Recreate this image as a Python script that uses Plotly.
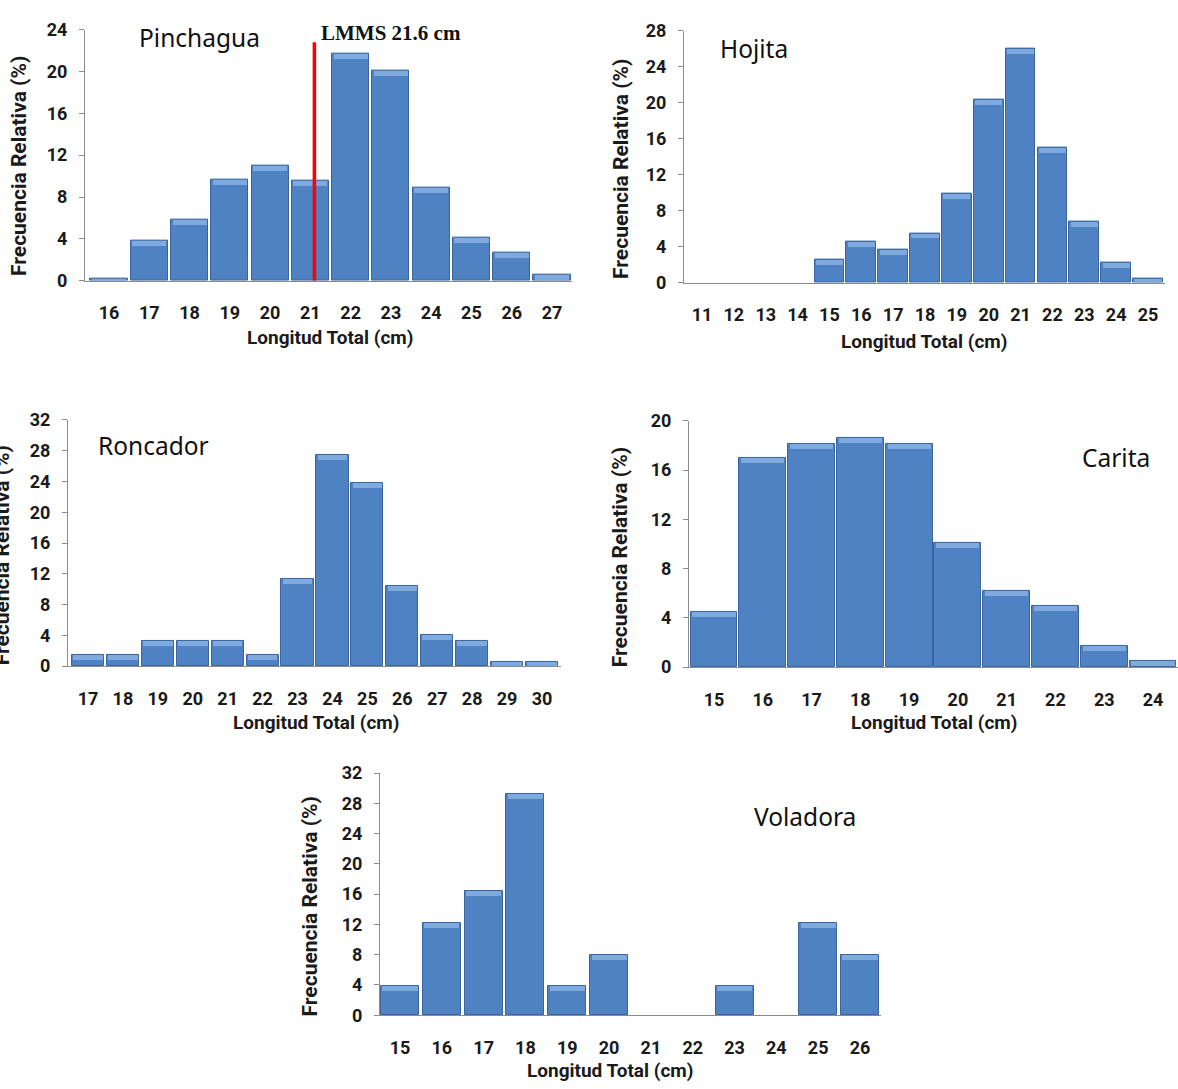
import plotly.graph_objects as go

# Length classes (cm) and relative frequencies (%) per species
pinchagua_len = list(range(16, 28))
pinchagua_freq = [0.2, 3.8, 5.8, 9.7, 11.0, 9.6, 21.7, 20.1, 8.9, 4.1, 2.7, 0.6]

hojita_len = list(range(11, 26))
hojita_freq = [0, 0, 0, 0, 2.6, 4.6, 3.7, 5.5, 9.9, 20.3, 26.0, 15.0, 6.8, 2.2, 0.4]

roncador_len = list(range(17, 31))
roncador_freq = [1.4, 1.4, 3.3, 3.3, 3.3, 1.4, 11.3, 27.5, 23.8, 10.4, 4.1, 3.3, 0.6, 0.6]

carita_len = list(range(15, 25))
carita_freq = [4.5, 17.0, 18.1, 18.6, 18.1, 10.1, 6.2, 5.0, 1.7, 0.5]

voladora_len = list(range(15, 27))
voladora_freq = [3.9, 12.2, 16.4, 29.2, 3.9, 8.0, 0, 0, 3.9, 0, 12.2, 8.0]

y_max = {"Pinchagua": 24, "Hojita": 28, "Roncador": 32, "Carita": 20, "Voladora": 32}
lmms_pinchagua = 21.6          # minimum landing size, cm
lmms_line_top = 22.8           # height of the marker line on the % axis

W, H = 1178, 1089

# Panel geometry in pixels: axis left/right/top/bottom, centres of first and last class
panels = [
    dict(name="Pinchagua", lens=pinchagua_len, freq=pinchagua_freq,
         L=85, R=572, T=19, B=275, c1=109, c2=552, bw=0.92,
         name_xy=(137, 27), xt=(330, 333), yt=(19, 158)),
    dict(name="Hojita", lens=hojita_len, freq=hojita_freq,
         L=684, R=1165, T=20, B=277, c1=702, c2=1148, bw=0.93,
         name_xy=(718, 38), xt=(924, 337), yt=(621, 161)),
    dict(name="Roncador", lens=roncador_len, freq=roncador_freq,
         L=68, R=561, T=417, B=668, c1=88, c2=542, bw=0.92,
         name_xy=(96, 443), xt=(316, 725), yt=(2, 555)),
    dict(name="Carita", lens=carita_len, freq=carita_freq,
         L=689, R=1178, T=418, B=669, c1=714, c2=1153, bw=0.96,
         name_xy=(1080, 455), xt=(934, 725), yt=(620, 557)),
    dict(name="Voladora", lens=voladora_len, freq=voladora_freq,
         L=380, R=881, T=777, B=1024, c1=400, c2=860, bw=0.91,
         name_xy=(752, 821), xt=(610, 1080), yt=(310, 913)),
]

BAR = "#4F82C3"
BAR_EDGE = "#3A659C"
BAR_TOP = "#8AB4E8"
AXIS = "#8C8C8C"
TICK_FONT = dict(family="Roboto", size=18, color="#1a1a1a", weight="bold")
XTITLE_FONT = dict(family="Roboto", size=19, color="#1a1a1a", weight="bold")
YTITLE_FONT = dict(family="Roboto", size=21, color="#1a1a1a", weight="bold")
NAME_FONT = dict(family="Noto Sans", size=24.5, color="#111111")


def px_x(p):
    return p / W


def px_y(p):
    return 1 - p / H


fig = go.Figure()
annotations = []

for i, p in enumerate(panels, start=1):
    xa = "x" if i == 1 else f"x{i}"
    ya = "y" if i == 1 else f"y{i}"
    lens, freq = p["lens"], p["freq"]
    mids = [k + 0.5 for k in lens]
    n = len(lens)
    step = (p["c2"] - p["c1"]) / (n - 1)
    x0 = mids[0] - (p["c1"] - p["L"]) / step
    x1 = mids[-1] + (p["R"] - p["c2"]) / step
    ymax = y_max[p["name"]]
    unit_px = (p["B"] - p["T"]) / ymax

    fig.add_trace(go.Bar(
        x=mids, y=freq, width=p["bw"], xaxis=xa, yaxis=ya,
        marker=dict(color=BAR, line=dict(color=BAR_EDGE,
                                         width=[1 if v > 0 else 0 for v in freq])),
        showlegend=False, hoverinfo="x+y",
    ))
    # light bevel band along the top of each bar
    band = 5 / unit_px
    fig.add_trace(go.Bar(
        x=mids, y=[min(band, v) for v in freq],
        base=[max(v - band, 0) for v in freq],
        width=[p["bw"] * 0.92] * n, xaxis=xa, yaxis=ya,
        marker=dict(color=BAR_TOP, line=dict(width=0)),
        opacity=0.8, showlegend=False, hoverinfo="skip",
    ))

    xkey = "xaxis" if i == 1 else f"xaxis{i}"
    ykey = "yaxis" if i == 1 else f"yaxis{i}"
    fig.update_layout({
        xkey: dict(
            domain=[px_x(p["L"]), px_x(p["R"])], anchor=ya, range=[x0, x1],
            tickmode="array", tickvals=mids, ticktext=[str(k) for k in lens],
            showline=True, linecolor=AXIS, linewidth=1, ticks="",
            showgrid=False, zeroline=False, tickfont=TICK_FONT,
            ticklabelstandoff=16, fixedrange=True,
        ),
        ykey: dict(
            domain=[px_y(p["B"]), px_y(p["T"])], anchor=xa, range=[0, ymax],
            tickmode="linear", tick0=0, dtick=4,
            showline=True, linecolor=AXIS, linewidth=1,
            ticks="outside", ticklen=5, tickcolor=AXIS,
            showgrid=False, zeroline=False, tickfont=TICK_FONT,
            ticklabelstandoff=8, fixedrange=True,
        ),
    })

    annotations.append(dict(
        text="Longitud Total (cm)", xref="paper", yref="paper",
        x=px_x(p["xt"][0]), y=px_y(p["xt"][1]), xanchor="center", yanchor="middle",
        showarrow=False, font=XTITLE_FONT,
    ))
    annotations.append(dict(
        text="Frecuencia Relativa (%)", xref="paper", yref="paper",
        x=px_x(p["yt"][0]), y=px_y(p["yt"][1]), xanchor="center", yanchor="middle",
        textangle=-90, showarrow=False, font=YTITLE_FONT,
    ))
    annotations.append(dict(
        text=p["name"], xref="paper", yref="paper",
        x=px_x(p["name_xy"][0]), y=px_y(p["name_xy"][1]), xanchor="left", yanchor="middle",
        showarrow=False, font=NAME_FONT,
    ))

# Minimum landing size marker on the Pinchagua panel
fig.add_shape(type="line", xref="x", yref="y",
              x0=lmms_pinchagua, x1=lmms_pinchagua, y0=0, y1=lmms_line_top,
              line=dict(color="#FF0000", width=3.5))
annotations.append(dict(
    text=f"LMMS {lmms_pinchagua} cm", xref="x", yref="y",
    x=lmms_pinchagua, y=lmms_line_top, xanchor="left", yanchor="middle",
    xshift=5, yshift=9, showarrow=False,
    font=dict(family="Liberation Serif", size=21, color="#111111", weight="bold"),
))

fig.update_layout(
    width=W, height=H, margin=dict(l=0, r=0, t=0, b=0),
    paper_bgcolor="white", plot_bgcolor="white",
    barmode="overlay", bargap=0, annotations=annotations,
    showlegend=False,
)

fig.write_html("out.html", config={"displayModeBar": False})
